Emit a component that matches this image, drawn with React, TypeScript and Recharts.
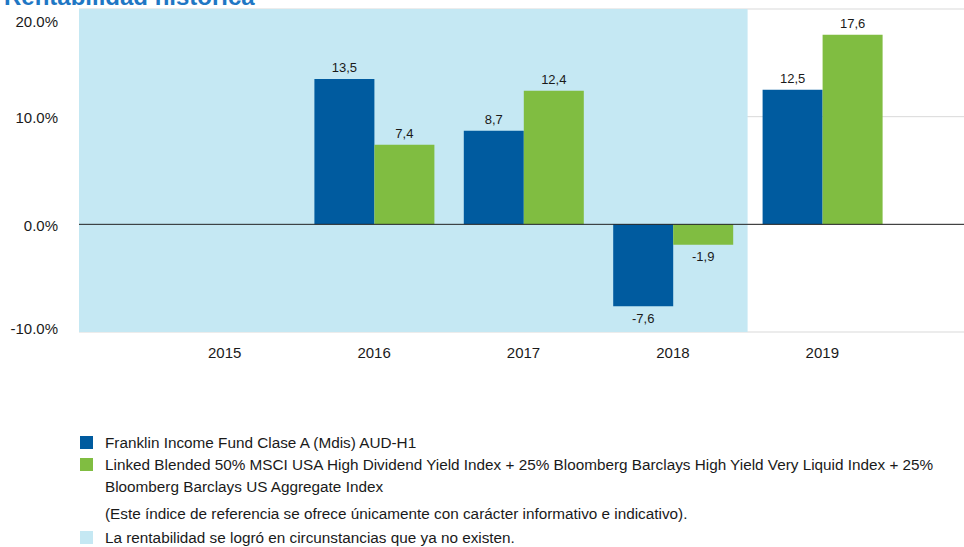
import React from 'react';
import {
  BarChart,
  Bar,
  XAxis,
  YAxis,
  CartesianGrid,
  ReferenceArea,
  ReferenceLine,
  LabelList,
} from 'recharts';

const years = ['2015', '2016', '2017', '2018', '2019'];
const fundReturns = [null, 13.5, 8.7, -7.6, 12.5];
const benchmarkReturns = [null, 7.4, 12.4, -1.9, 17.6];
const yTicks = [-10, 0, 10, 20];
const pastPeriod = ['2015', '2018'];

const fundName = 'Franklin Income Fund Clase A (Mdis) AUD-H1';
const benchmarkLine1 =
  'Linked Blended 50% MSCI USA High Dividend Yield Index + 25% Bloomberg Barclays High Yield Very Liquid Index + 25%';
const benchmarkLine2 = 'Bloomberg Barclays US Aggregate Index';
const benchmarkNote =
  '(Este índice de referencia se ofrece únicamente con carácter informativo e indicativo).';
const shadedNote = 'La rentabilidad se logró en circunstancias que ya no existen.';

const data = years.map((year, i) => ({
  year,
  fund: fundReturns[i],
  benchmark: benchmarkReturns[i],
}));

const FONT = 'Arial, "Liberation Sans", sans-serif';
const BLUE = '#005b9f';
const GREEN = '#80bd41';
const SHADE = '#c5e8f3';
const Y_AXIS_WIDTH = 79;

const formatValue = (v: number) => v.toFixed(1).replace('.', ',');

const ValueLabel = (props: any) => {
  const { x, y, width, height, value } = props;
  if (value == null) return null;
  const v = Number(value);
  const top = Math.min(y, y + height);
  const bottom = Math.max(y, y + height);
  return (
    <text
      x={x + width / 2}
      y={v < 0 ? bottom + 12 : top - 11}
      textAnchor="middle"
      dominantBaseline="central"
      fontSize={13}
      fontFamily={FONT}
      fill="#1a1a1a"
    >
      {formatValue(v)}
    </text>
  );
};

const YTick = (props: any) => {
  const { x, y, payload } = props;
  // outer labels sit inside the plot like in the original
  const shift = payload.value === 20 ? 12 : payload.value === -10 ? -4 : 1;
  return (
    <text
      x={x}
      y={y + shift}
      textAnchor="end"
      dominantBaseline="central"
      fontSize={15}
      fontFamily={FONT}
      fill="#1a1a1a"
    >
      {payload.value.toFixed(1)}%
    </text>
  );
};

const ShadeRect = (props: any) => {
  const { x, y, width, height } = props;
  return (
    <rect
      x={Y_AXIS_WIDTH}
      y={y}
      width={x + width - Y_AXIS_WIDTH}
      height={height}
      fill={SHADE}
    />
  );
};

const Swatch = ({ color }: { color: string }) => (
  <span
    style={{
      display: 'inline-block',
      width: 13,
      height: 13,
      background: color,
      marginTop: 4,
      flexShrink: 0,
    }}
  />
);

const App: React.FC = () => {
  return (
    <div
      style={{
        position: 'absolute',
        left: 0,
        top: 0,
        width: 964,
        height: 547,
        overflow: 'hidden',
        background: '#fff',
        fontFamily: FONT,
        color: '#1a1a1a',
      }}
    >
      <div
        style={{
          position: 'absolute',
          left: 4,
          top: -17,
          fontSize: 24,
          fontWeight: 'bold',
          color: '#1f77c4',
          whiteSpace: 'nowrap',
        }}
      >
        Rentabilidad histórica
      </div>

      <div style={{ position: 'absolute', left: 0, top: 0 }}>
        <BarChart
          width={964}
          height={362}
          data={data}
          margin={{ top: 9, right: 0, bottom: 0, left: 0 }}
          barGap={0}
          barSize={60}
        >
          <ReferenceArea
            x1={pastPeriod[0]}
            x2={pastPeriod[1]}
            shape={ShadeRect}
            ifOverflow="visible"
          />
          <CartesianGrid vertical={false} stroke="#d9d9d9" />
          <XAxis
            dataKey="year"
            padding={{ left: 71, right: 67 }}
            axisLine={false}
            tickLine={false}
            tickSize={0}
            tickMargin={15}
            height={30}
            tick={{ fontSize: 15, fill: '#1a1a1a', fontFamily: FONT }}
          />
          <YAxis
            width={Y_AXIS_WIDTH}
            domain={[-10, 20]}
            ticks={yTicks}
            axisLine={false}
            tickLine={false}
            tickSize={0}
            tickMargin={21}
            tick={<YTick />}
          />
          <Bar dataKey="fund" fill={BLUE} isAnimationActive={false}>
            <LabelList dataKey="fund" content={<ValueLabel />} />
          </Bar>
          <Bar dataKey="benchmark" fill={GREEN} isAnimationActive={false}>
            <LabelList dataKey="benchmark" content={<ValueLabel />} />
          </Bar>
          <ReferenceLine y={0} stroke="#222" strokeWidth={1} />
        </BarChart>
      </div>

      <div
        style={{
          position: 'absolute',
          left: 80,
          top: 432,
          fontSize: 15.3,
          lineHeight: '22px',
        }}
      >
        <div style={{ display: 'flex', alignItems: 'flex-start' }}>
          <Swatch color={BLUE} />
          <span style={{ marginLeft: 12, whiteSpace: 'nowrap' }}>{fundName}</span>
        </div>
        <div style={{ display: 'flex', alignItems: 'flex-start' }}>
          <Swatch color={GREEN} />
          <span style={{ marginLeft: 12, whiteSpace: 'nowrap' }}>
            {benchmarkLine1}
            <br />
            {benchmarkLine2}
          </span>
        </div>
        <div style={{ marginLeft: 25, marginTop: 5, whiteSpace: 'nowrap' }}>{benchmarkNote}</div>
        <div style={{ display: 'flex', alignItems: 'flex-start', marginTop: 2 }}>
          <Swatch color={SHADE} />
          <span style={{ marginLeft: 12, whiteSpace: 'nowrap' }}>{shadedNote}</span>
        </div>
      </div>
    </div>
  );
};

export default App;
